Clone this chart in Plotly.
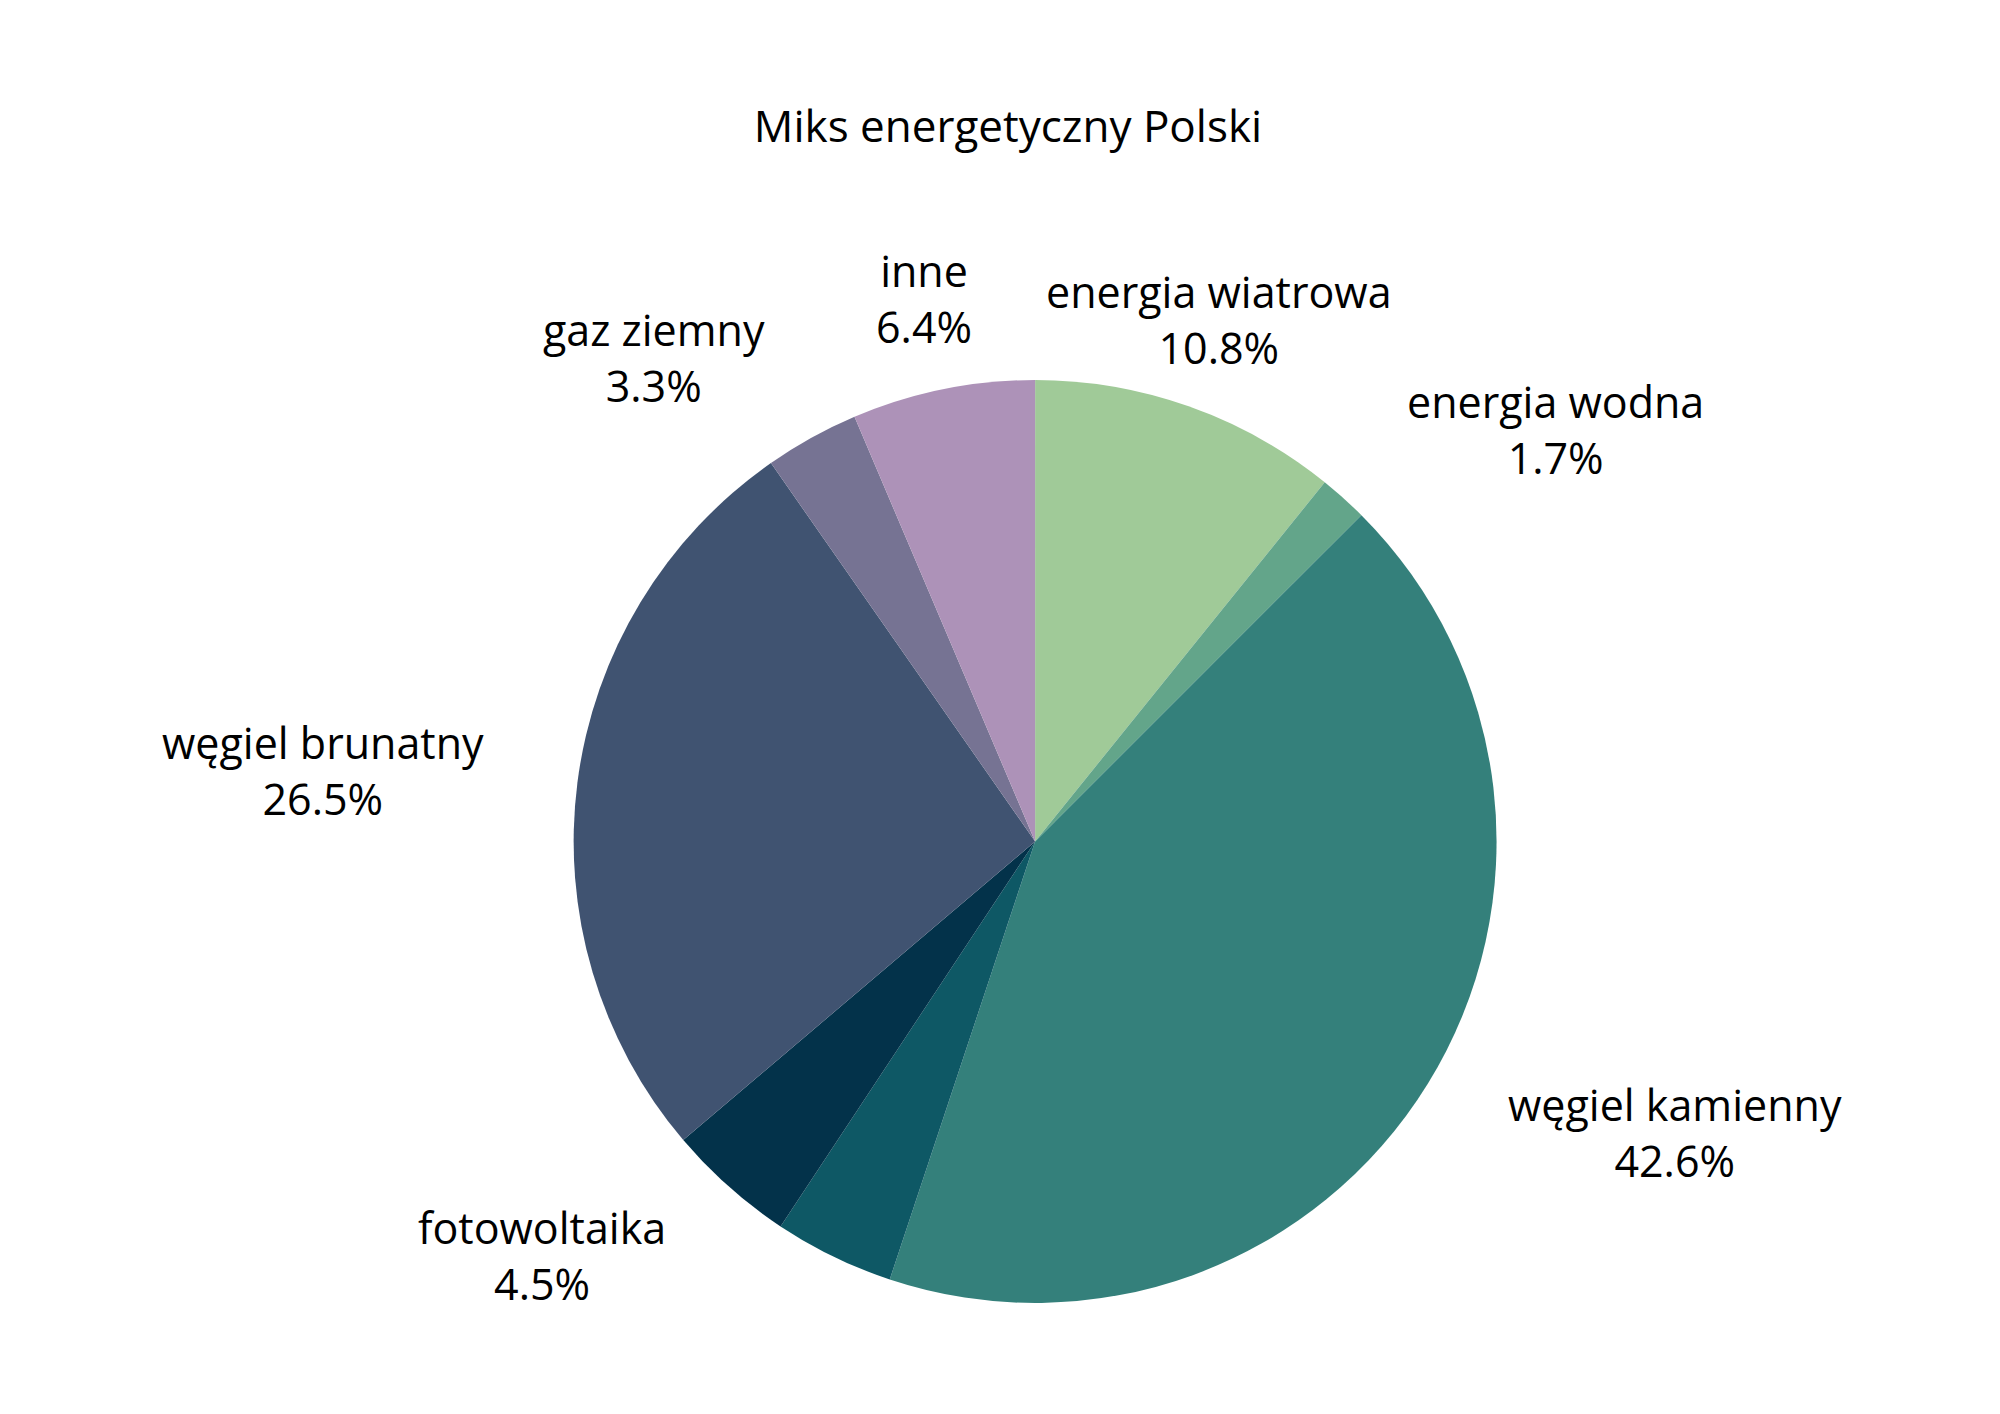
import numpy as np
import plotly.graph_objects as go

labels = ['energia wiatrowa', 'energia wodna', 'węgiel kamienny', 'biomasa',
          'fotowoltaika', 'węgiel brunatny', 'gaz ziemny', 'inne']
values = [10.8, 1.7, 42.6, 4.2, 4.5, 26.5, 3.3, 6.4]
colors = ['#a0ca98', '#63a58a', '#34807b', '#0e5865',
          '#03324a', '#405371', '#767393', '#ad92b8']
# the dark teal slice carries no label in the original
show_label = [True, True, True, False, True, True, True, True]

# pie box (square in pixels); hidden axes share its centre and scale
dom_x = [0.2828, 0.7443]
dom_y = [0.0842, 0.7369]
xr = [-1.6, 1.6]
yr = [-1.25, 1.3]
label_r = 1.2

cx, hx = (dom_x[0] + dom_x[1]) / 2, (dom_x[1] - dom_x[0]) / 2
cy, hy = (dom_y[0] + dom_y[1]) / 2, (dom_y[1] - dom_y[0]) / 2
ax_dom_x = [cx + xr[0] * hx, cx + xr[1] * hx]
ax_dom_y = [cy + yr[0] * hy, cy + yr[1] * hy]

fig = go.Figure()
fig.add_trace(go.Pie(
    labels=labels,
    values=values,
    sort=False,
    direction='clockwise',
    rotation=0,
    marker=dict(colors=colors, line=dict(width=0)),
    textinfo='none',
    hoverinfo='label+percent',
    domain=dict(x=dom_x, y=dom_y),
))

# labels sit on the slice bisectors, just outside the pie
vals = np.array(values)
mids = (np.cumsum(vals) - vals / 2) / vals.sum() * 2 * np.pi
for lab, v, a, show in zip(labels, values, mids, show_label):
    if not show:
        continue
    s = np.sin(a)
    if abs(s) < 0.4:
        anchor = 'center'
    elif s > 0:
        anchor = 'left'
    else:
        anchor = 'right'
    fig.add_annotation(
        x=label_r * s, y=label_r * np.cos(a), xref='x', yref='y',
        text=f'{lab}<br>{v:.1f}%', showarrow=False,
        xanchor=anchor, yanchor='middle', align='center',
        font=dict(family='Open Sans', size=43, color='black'),
    )

fig.update_xaxes(domain=ax_dom_x, range=xr, visible=False, fixedrange=True)
fig.update_yaxes(domain=ax_dom_y, range=yr, visible=False, fixedrange=True)

fig.update_layout(
    title=dict(text='Miks energetyczny Polski', x=0.5, y=0.916,
               xanchor='center', yanchor='middle',
               font=dict(family='Open Sans', size=44, color='black')),
    showlegend=False,
    width=2000, height=1414,
    margin=dict(l=0, r=0, t=0, b=0),
    paper_bgcolor='white',
    plot_bgcolor='rgba(0,0,0,0)',
)

fig.write_html("out.html")
